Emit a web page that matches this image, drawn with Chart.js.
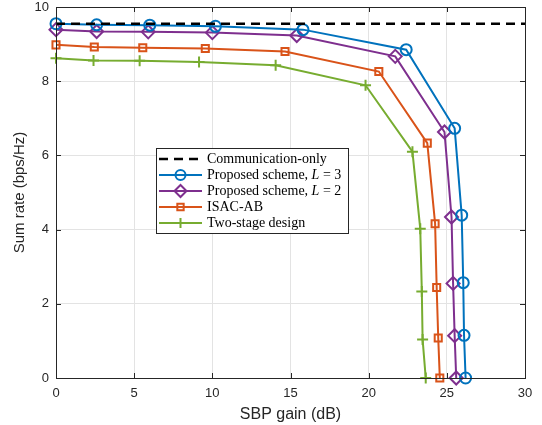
<!DOCTYPE html>
<html>
<head>
<meta charset="utf-8">
<script src="https://cdn.jsdelivr.net/npm/chart.js@4"></script>
<style>
  html, body { margin: 0; padding: 0; background: #fff; }
  #wrap { width: 542px; height: 425px; }
</style>
</head>
<body>
<div id="wrap"><canvas id="rateChart" width="542" height="425"></canvas></div>
<script>
// SBP gain (dB) and sum rate (bps/Hz) for each scheme
const commOnlyGain = [0, 30];
const commOnlyRate = [9.55, 9.55];

const l3Gain = [0, 2.6, 6.0, 10.2, 15.8, 22.4, 25.5, 25.95, 26.05, 26.1, 26.2];
const l3Rate = [9.55, 9.52, 9.51, 9.48, 9.39, 8.85, 6.73, 4.39, 2.57, 1.15, 0];

const l2Gain = [0, 2.6, 5.9, 10.0, 15.4, 21.7, 24.85, 25.3, 25.4, 25.5, 25.6];
const l2Rate = [9.39, 9.34, 9.33, 9.31, 9.23, 8.67, 6.63, 4.34, 2.55, 1.14, 0];

const abGain = [0, 2.45, 5.55, 9.55, 14.65, 20.65, 23.75, 24.25, 24.35, 24.45, 24.55];
const abRate = [8.98, 8.92, 8.90, 8.88, 8.80, 8.26, 6.33, 4.16, 2.44, 1.08, 0];

const twoStageGain = [0, 2.4, 5.35, 9.15, 14.05, 19.8, 22.8, 23.3, 23.4, 23.45, 23.65];
const twoStageRate = [8.62, 8.56, 8.55, 8.52, 8.43, 7.89, 6.10, 4.02, 2.33, 1.04, 0];

const xTicks = [0, 5, 10, 15, 20, 25, 30];
const yTicks = [0, 2, 4, 6, 8, 10];

const legendLabels = [
    ['Communication-only'],
    ['Proposed scheme, ', 'L', ' = 3'],
    ['Proposed scheme, ', 'L', ' = 2'],
    ['ISAC-AB'],
    ['Two-stage design']
];

const axisColor = '#262626';
const sans = '"Liberation Sans", Arial, sans-serif';
const serif = '"Liberation Serif", "Times New Roman", serif';

const pts = (xs, ys) => xs.map((x, i) => ({ x: x, y: ys[i] }));

const series = [
    { data: pts(commOnlyGain, commOnlyRate), color: '#000000', style: false, dash: [9, 6], width: 2.5 },
    { data: pts(l3Gain, l3Rate), color: '#0072BD', style: 'circle', radius: 5.5 },
    { data: pts(l2Gain, l2Rate), color: '#7E2F8E', style: 'rectRot', radius: 6.5 },
    { data: pts(abGain, abRate), color: '#D95319', style: 'rect', radius: 5 },
    { data: pts(twoStageGain, twoStageRate), color: '#77AC30', style: 'cross', radius: 5.5 }
];

const datasets = series.map((s, i) => ({
    label: legendLabels[i].join(''),
    data: s.data,
    borderColor: s.color,
    borderWidth: s.width || 2,
    borderDash: s.dash || [],
    pointStyle: s.style,
    pointRadius: s.style ? s.radius : 0,
    pointBorderWidth: 2,
    pointBorderColor: s.color,
    pointBackgroundColor: 'rgba(0,0,0,0)',
    fill: false,
    tension: 0,
    clip: false
}));

// box around the plot with inward ticks, like a MATLAB axes
const axesBox = {
    id: 'axesBox',
    afterDatasetsDraw(chart) {
        const { ctx, chartArea: a, scales } = chart;
        ctx.save();
        ctx.strokeStyle = axisColor;
        ctx.lineWidth = 1;
        ctx.strokeRect(Math.round(a.left) + 0.5, Math.round(a.top) + 0.5,
            Math.round(a.right - a.left), Math.round(a.bottom - a.top));
        ctx.beginPath();
        xTicks.forEach(v => {
            const x = Math.round(scales.x.getPixelForValue(v)) + 0.5;
            ctx.moveTo(x, a.bottom); ctx.lineTo(x, a.bottom - 5);
            ctx.moveTo(x, a.top); ctx.lineTo(x, a.top + 5);
        });
        yTicks.forEach(v => {
            const y = Math.round(scales.y.getPixelForValue(v)) + 0.5;
            ctx.moveTo(a.left, y); ctx.lineTo(a.left + 5, y);
            ctx.moveTo(a.right, y); ctx.lineTo(a.right - 5, y);
        });
        ctx.stroke();
        ctx.restore();
    },
    afterDraw(chart) {
        // legend box in the middle of the axes
        const { ctx } = chart;
        const bx = 156, by = 148, bw = 192, bh = 85;
        ctx.save();
        ctx.fillStyle = '#fff';
        ctx.fillRect(bx, by, bw, bh);
        ctx.strokeStyle = axisColor;
        ctx.lineWidth = 1;
        ctx.strokeRect(bx + 0.5, by + 0.5, bw, bh);
        const rows = [159, 175, 191, 207, 223];
        series.forEach((s, i) => {
            const y = rows[i];
            ctx.strokeStyle = s.color;
            ctx.lineWidth = s.width || 2;
            ctx.setLineDash(s.dash || []);
            ctx.beginPath();
            ctx.moveTo(159, y); ctx.lineTo(202, y);
            ctx.stroke();
            ctx.setLineDash([]);
            if (s.style) {
                ctx.fillStyle = 'rgba(0,0,0,0)';
                ctx.strokeStyle = s.color;
                ctx.lineWidth = 2;
                Chart.helpers.drawPoint(ctx, {
                    pointStyle: s.style, radius: s.radius - 0.5, borderWidth: 2
                }, 180.5, y);
            }
            ctx.fillStyle = '#000';
            ctx.textBaseline = 'middle';
            let x = 207;
            legendLabels[i].forEach((part, j) => {
                ctx.font = (j === 1 ? 'italic ' : '') + '14px ' + serif;
                ctx.fillText(part, x, y);
                x += ctx.measureText(part).width;
            });
        });
        ctx.restore();
    }
};

new Chart(document.getElementById('rateChart'), {
    type: 'line',
    data: { datasets: datasets },
    options: {
        responsive: false,
        animation: false,
        layout: { autoPadding: false, padding: { left: 0, right: 17, top: 7, bottom: 0 } },
        plugins: { legend: { display: false }, tooltip: { enabled: false } },
        scales: {
            x: {
                type: 'linear',
                min: 0, max: 30,
                afterFit: s => { s.height = 47; },
                afterBuildTicks: s => { s.ticks = xTicks.map(v => ({ value: v })); },
                grid: { color: '#e3e3e3', drawTicks: false },
                border: { display: false },
                ticks: { color: axisColor, font: { family: sans, size: 13 }, padding: 8, maxRotation: 0 },
                title: {
                    display: true, text: 'SBP gain (dB)', color: axisColor,
                    font: { family: sans, size: 16 }, padding: { top: 2, bottom: 1 }
                }
            },
            y: {
                type: 'linear',
                min: 0, max: 10,
                afterFit: s => { s.width = 56; s.paddingTop = 0; s.paddingBottom = 0; },
                afterBuildTicks: s => { s.ticks = yTicks.map(v => ({ value: v })); },
                grid: { color: '#e3e3e3', drawTicks: false },
                border: { display: false },
                ticks: { color: axisColor, font: { family: sans, size: 13 }, padding: 7 },
                title: {
                    display: true, text: 'Sum rate (bps/Hz)', color: axisColor,
                    font: { family: sans, size: 15 }, padding: { top: 11, bottom: 0 }
                }
            }
        }
    },
    plugins: [axesBox]
});
</script>
</body>
</html>
